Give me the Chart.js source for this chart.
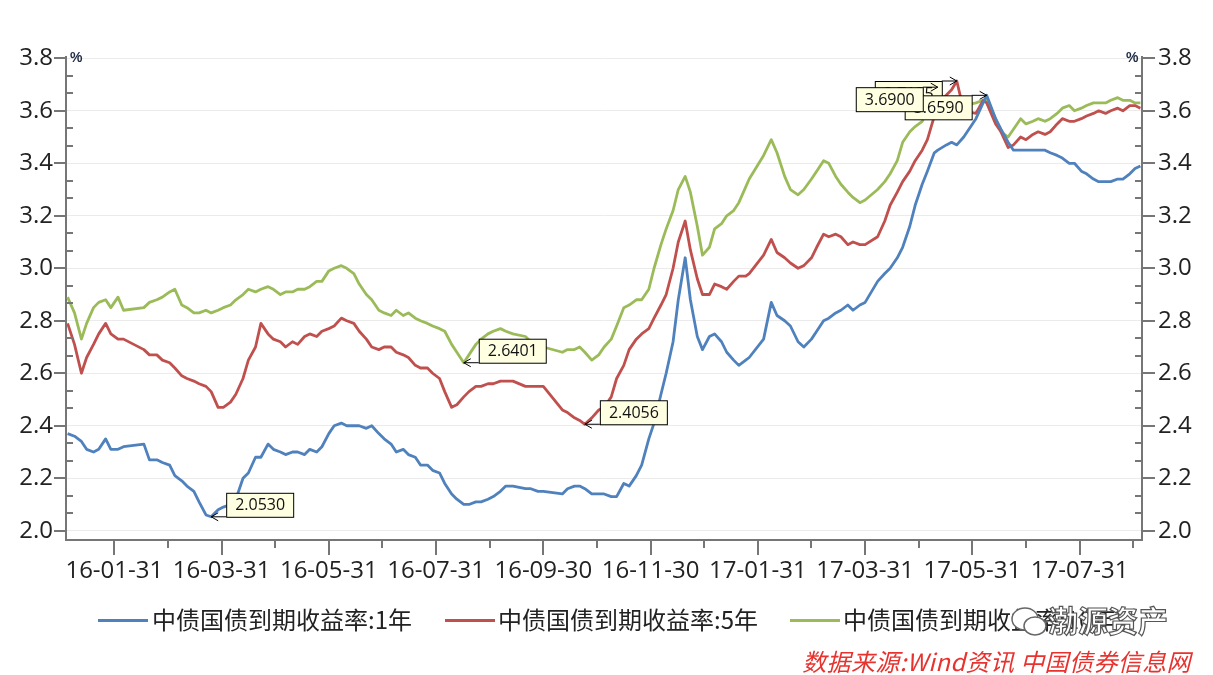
<!DOCTYPE html>
<html><head><meta charset="utf-8">
<script src="https://cdn.jsdelivr.net/npm/chart.js@4/dist/chart.umd.min.js"></script>
<style>
html,body{margin:0;padding:0;background:#fff;}
#wrap{position:relative;width:1213px;height:675px;overflow:hidden;}
#c{position:absolute;left:0;top:0;}
.pct{position:absolute;top:49px;font:bold 14px "Liberation Sans",Arial,sans-serif;color:#1f2a44;}
.leg{position:absolute;top:604px;font:24px "Noto Sans CJK SC",sans-serif;color:#222;white-space:nowrap;line-height:30px;}
.sw{position:absolute;top:619px;width:50px;height:3px;}
#src{position:absolute;right:22px;top:646px;font:italic 24px "Noto Sans CJK SC",sans-serif;letter-spacing:0.4px;color:#e8322e;white-space:nowrap;line-height:30px;}
#wm{position:absolute;left:1048px;top:601px;font:bold 30px "Noto Sans CJK SC",sans-serif;color:#fff;-webkit-text-stroke:1.2px #555;white-space:nowrap;line-height:36px;}
#wmicon{position:absolute;left:1010px;top:606px;}
</style>
</head><body>
<div id="wrap">
<canvas id="c" width="1213" height="675"></canvas>
<div class="pct" style="left:70px">%</div>
<div class="pct" style="left:1126px">%</div>
<div class="sw" style="left:98px;background:#4f81bd"></div>
<div class="leg" style="left:152px">中债国债到期收益率:1年</div>
<div class="sw" style="left:445px;background:#c0504d"></div>
<div class="leg" style="left:498px">中债国债到期收益率:5年</div>
<div class="sw" style="left:790px;background:#9bbb59"></div>
<div class="leg" style="left:843px">中债国债到期收益率:10年</div>
<svg id="wmicon" width="40" height="34" viewBox="0 0 40 34"><ellipse cx="15" cy="13" rx="13" ry="11" fill="#fff" stroke="#666" stroke-width="1.5"/><ellipse cx="25" cy="20" rx="11" ry="9" fill="#fff" stroke="#666" stroke-width="1.5"/></svg>
<div id="wm">渤源资产</div>
<div id="src">数据来源:Wind资讯 中国债券信息网</div>
</div>
<script>
// ---- data ----
const dates = [
'2016-01-04','2016-01-08','2016-01-12','2016-01-15','2016-01-19','2016-01-22','2016-01-26','2016-01-29','2016-02-02','2016-02-05',
'2016-02-16','2016-02-19','2016-02-23','2016-02-26','2016-03-01','2016-03-04','2016-03-08','2016-03-11','2016-03-15','2016-03-18',
'2016-03-22','2016-03-25','2016-03-29','2016-04-01','2016-04-05','2016-04-08','2016-04-12','2016-04-15','2016-04-19','2016-04-22',
'2016-04-26','2016-04-29','2016-05-03','2016-05-06','2016-05-10','2016-05-13','2016-05-17','2016-05-20','2016-05-24','2016-05-27',
'2016-05-31','2016-06-03','2016-06-07','2016-06-10','2016-06-14','2016-06-17','2016-06-21','2016-06-24','2016-06-28','2016-07-01',
'2016-07-05','2016-07-08','2016-07-12','2016-07-15','2016-07-19','2016-07-22','2016-07-26','2016-07-29','2016-08-02','2016-08-05',
'2016-08-09','2016-08-12','2016-08-16','2016-08-19','2016-08-23','2016-08-26','2016-08-30','2016-09-02','2016-09-06','2016-09-09',
'2016-09-13','2016-09-20','2016-09-23','2016-09-27','2016-09-30','2016-10-11','2016-10-14','2016-10-18','2016-10-21','2016-10-24',
'2016-10-28','2016-11-01','2016-11-04','2016-11-08','2016-11-11','2016-11-15','2016-11-18','2016-11-22','2016-11-25','2016-11-29',
'2016-12-02','2016-12-06','2016-12-09','2016-12-13','2016-12-16','2016-12-20','2016-12-23','2016-12-27','2016-12-30','2017-01-03',
'2017-01-06','2017-01-10','2017-01-13','2017-01-17','2017-01-20','2017-01-24','2017-01-26','2017-02-03','2017-02-07','2017-02-10',
'2017-02-14','2017-02-17','2017-02-21','2017-02-24','2017-02-28','2017-03-03','2017-03-07','2017-03-10','2017-03-14','2017-03-17',
'2017-03-21','2017-03-24','2017-03-28','2017-03-31','2017-04-07','2017-04-11','2017-04-14','2017-04-18','2017-04-21','2017-04-25',
'2017-04-28','2017-05-02','2017-05-05','2017-05-09','2017-05-11','2017-05-16','2017-05-19','2017-05-22','2017-05-26','2017-06-02',
'2017-06-06','2017-06-08','2017-06-13','2017-06-16','2017-06-20','2017-06-23','2017-06-27','2017-06-30','2017-07-04','2017-07-07',
'2017-07-11','2017-07-14','2017-07-18','2017-07-21','2017-07-25','2017-07-28','2017-08-01','2017-08-04','2017-08-08','2017-08-11',
'2017-08-15','2017-08-18','2017-08-22','2017-08-25','2017-08-29','2017-09-01','2017-09-04'];
const yield1Y = [
2.37,2.36,2.34,2.31,2.30,2.31,2.35,2.31,2.31,2.32,
2.33,2.27,2.27,2.26,2.25,2.21,2.19,2.17,2.15,2.11,
2.06,2.053,2.08,2.09,2.10,2.12,2.20,2.22,2.28,2.28,
2.33,2.31,2.30,2.29,2.30,2.30,2.29,2.31,2.30,2.32,
2.37,2.40,2.41,2.40,2.40,2.40,2.39,2.40,2.37,2.35,
2.33,2.30,2.31,2.29,2.28,2.25,2.25,2.23,2.22,2.18,
2.14,2.12,2.10,2.10,2.11,2.11,2.12,2.13,2.15,2.17,
2.17,2.16,2.16,2.15,2.15,2.14,2.16,2.17,2.17,2.16,
2.14,2.14,2.14,2.13,2.13,2.18,2.17,2.21,2.25,2.35,
2.41,2.52,2.60,2.72,2.88,3.04,2.88,2.74,2.69,2.74,
2.75,2.72,2.68,2.65,2.63,2.65,2.66,2.73,2.87,2.82,
2.80,2.78,2.72,2.70,2.73,2.76,2.80,2.81,2.83,2.84,
2.86,2.84,2.86,2.87,2.95,2.98,3.00,3.04,3.08,3.16,
3.24,3.32,3.37,3.44,3.45,3.47,3.48,3.47,3.50,3.57,
3.63,3.659,3.57,3.53,3.48,3.45,3.45,3.45,3.45,3.45,
3.45,3.44,3.43,3.42,3.40,3.40,3.37,3.36,3.34,3.33,
3.33,3.33,3.34,3.34,3.36,3.38,3.39];
const yield5Y = [
2.79,2.71,2.60,2.66,2.71,2.75,2.79,2.75,2.73,2.73,
2.69,2.67,2.67,2.65,2.64,2.62,2.59,2.58,2.57,2.56,
2.55,2.53,2.47,2.47,2.49,2.52,2.58,2.65,2.70,2.79,
2.75,2.73,2.72,2.70,2.72,2.71,2.74,2.75,2.74,2.76,
2.77,2.78,2.81,2.80,2.79,2.76,2.73,2.70,2.69,2.70,
2.70,2.68,2.67,2.66,2.63,2.62,2.62,2.60,2.58,2.53,
2.47,2.48,2.51,2.53,2.55,2.55,2.56,2.56,2.57,2.57,
2.57,2.55,2.55,2.55,2.55,2.46,2.45,2.43,2.42,2.4056,
2.43,2.46,2.47,2.51,2.58,2.63,2.69,2.73,2.75,2.77,
2.81,2.86,2.90,3.00,3.10,3.18,3.07,2.96,2.90,2.90,
2.94,2.93,2.92,2.95,2.97,2.97,2.98,3.05,3.11,3.06,
3.04,3.02,3.00,3.01,3.04,3.08,3.13,3.12,3.13,3.12,
3.09,3.10,3.09,3.09,3.12,3.18,3.24,3.29,3.33,3.37,
3.41,3.45,3.49,3.58,3.63,3.66,3.68,3.7135,3.60,3.59,
3.64,3.63,3.55,3.52,3.46,3.47,3.50,3.49,3.51,3.52,
3.51,3.52,3.55,3.57,3.56,3.56,3.57,3.58,3.59,3.60,
3.59,3.60,3.61,3.60,3.62,3.62,3.61];
const yield10Y = [
2.89,2.83,2.73,2.79,2.85,2.87,2.88,2.85,2.89,2.84,
2.85,2.87,2.88,2.89,2.91,2.92,2.86,2.85,2.83,2.83,
2.84,2.83,2.84,2.85,2.86,2.88,2.90,2.92,2.91,2.92,
2.93,2.92,2.90,2.91,2.91,2.92,2.92,2.93,2.95,2.95,
2.99,3.00,3.01,3.00,2.98,2.94,2.90,2.88,2.84,2.83,
2.82,2.84,2.82,2.83,2.81,2.80,2.79,2.78,2.77,2.76,
2.71,2.68,2.6401,2.67,2.71,2.73,2.75,2.76,2.77,2.76,
2.75,2.74,2.72,2.70,2.70,2.68,2.69,2.69,2.70,2.68,
2.65,2.67,2.70,2.73,2.78,2.85,2.86,2.88,2.88,2.92,
3.00,3.09,3.15,3.22,3.30,3.35,3.29,3.16,3.05,3.08,
3.15,3.17,3.20,3.22,3.25,3.31,3.34,3.43,3.49,3.44,
3.35,3.30,3.28,3.30,3.34,3.37,3.41,3.40,3.35,3.32,
3.29,3.27,3.25,3.26,3.30,3.33,3.36,3.41,3.48,3.52,
3.54,3.56,3.60,3.65,3.69,3.62,3.62,3.62,3.62,3.63,
3.64,3.64,3.57,3.52,3.50,3.53,3.57,3.55,3.56,3.57,
3.56,3.57,3.59,3.61,3.62,3.60,3.61,3.62,3.63,3.63,
3.63,3.64,3.65,3.64,3.64,3.63,3.63];
const seriesNames = ['中债国债到期收益率:1年','中债国债到期收益率:5年','中债国债到期收益率:10年'];
const seriesColors = ['#4f81bd','#c0504d','#9bbb59'];
const monthEnds = ['2016-01-31','2016-02-29','2016-03-31','2016-04-30','2016-05-31','2016-06-30','2016-07-31','2016-08-31','2016-09-30','2016-10-31',
'2016-11-30','2016-12-31','2017-01-31','2017-02-28','2017-03-31','2017-04-30','2017-05-31','2017-06-30','2017-07-31','2017-08-31'];
const yTicks = [2.0,2.2,2.4,2.6,2.8,3.0,3.2,3.4,3.6,3.8];
const annotations = [
  {series:1, date:'2017-05-22', text:'3.7135', side:'left'},
  {series:0, date:'2017-06-08', text:'3.6590', side:'left'},
  {series:2, date:'2017-05-11', text:'3.6900', side:'left'},
  {series:0, date:'2016-03-25', text:'2.0530', side:'right'},
  {series:2, date:'2016-08-16', text:'2.6401', side:'right'},
  {series:1, date:'2016-10-24', text:'2.4056', side:'right'}
];
// ---- helpers ----
function datePos(s){const [y,m,d]=s.split('-').map(Number);const dim=new Date(y,m,0).getDate();return (y-2016)*12+(m-1)+d/dim;}
function fmt(s){return s.slice(2);}
const allSeries=[yield1Y,yield5Y,yield10Y];
allSeries.forEach((a,i)=>{if(a.length!==dates.length)console.error('length mismatch',i,a.length,dates.length);});
const datasets = allSeries.map((arr,i)=>({
  label:seriesNames[i], yAxisID:'yL', xAxisID:'x',
  data:dates.map((d,j)=>({x:datePos(d),y:arr[j]})),
  borderColor:seriesColors[i], borderWidth:2.8, pointRadius:0, tension:0, fill:false, borderJoinStyle:'round'
}));
const FONT='"Open Sans", "Liberation Sans", sans-serif';
const tickPlugin={id:'tk',afterDraw(chart){
  const ctx=chart.ctx,x=chart.scales.x,yl=chart.scales.yL,a=chart.chartArea;
  ctx.save();ctx.strokeStyle='#767676';ctx.lineWidth=2;
  const ln=(x1,y1,x2,y2)=>{ctx.beginPath();ctx.moveTo(x1,y1);ctx.lineTo(x2,y2);ctx.stroke();};
  x.ticks.forEach((t,i)=>{const px=Math.round(x.getPixelForValue(t.value));ln(px,a.bottom,px,a.bottom+(i%2===0?15:8));});
  for(let i=0;i<yTicks.length-1;i++){
    for(let k=0;k<3;k++){
      const v=yTicks[i]+(yTicks[i+1]-yTicks[i])*k/3;const py=Math.round(yl.getPixelForValue(v));
      if(k===0){ln(a.left-12,py,a.left,py);ln(a.right,py,a.right+13,py);}
      else{ln(a.left,py,a.left+7,py);ln(a.right-7,py,a.right,py);}
    }
  }
  const pt=Math.round(yl.getPixelForValue(yTicks[yTicks.length-1]));ln(a.left-12,pt,a.left,pt);ln(a.right,pt,a.right+13,pt);
  ctx.restore();
}};
const annPlugin={id:'ann',afterDatasetsDraw(chart){
  const ctx=chart.ctx,x=chart.scales.x,y=chart.scales.yL;
  ctx.save();ctx.font='16px '+FONT;ctx.textBaseline='middle';
  annotations.forEach(an=>{
    const j=dates.indexOf(an.date);const v=allSeries[an.series][j];
    const px=x.getPixelForValue(datePos(an.date)),py=y.getPixelForValue(v);
    const w=67,h=24,gap=15;let bx,by,ax,ay;
    if(an.side==='right'){bx=px+gap;by=py-h;ax=bx;ay=py;}else{bx=px-gap-w;by=py;ax=bx+w;ay=py;}
    ctx.strokeStyle='#000';ctx.lineWidth=1;
    ctx.beginPath();ctx.moveTo(ax,ay);ctx.lineTo(px,py);ctx.stroke();
    const dir=an.side==='right'?1:-1;
    ctx.beginPath();ctx.moveTo(px+dir*7,py-4);ctx.lineTo(px,py);ctx.lineTo(px+dir*7,py+4);ctx.stroke();
    ctx.fillStyle='#ffffe1';ctx.fillRect(bx+0.5,by+0.5,w,h);ctx.strokeRect(bx+0.5,by+0.5,w,h);
    ctx.fillStyle='#111';ctx.textAlign='center';ctx.fillText(an.text,bx+w/2+0.5,by+h/2+1);
  });
  ctx.restore();
}};
const tickFont={family:FONT,size:24};
new Chart(document.getElementById('c'),{
  type:'line',
  data:{datasets},
  options:{
    responsive:false,animation:false,
    layout:{padding:{top:57,bottom:90,left:0,right:0}},
    plugins:{legend:{display:false},tooltip:{enabled:false}},
    scales:{
      x:{type:'linear',min:0.0994,max:20.163,
        afterBuildTicks:s=>{s.ticks=monthEnds.map(d=>({value:datePos(d)}));},
        afterFit:s=>{s.height=45;},
        grid:{display:false,drawTicks:false},
        border:{display:true,color:'#767676',width:2},
        ticks:{autoSkip:false,maxRotation:0,padding:17,color:'#222',font:tickFont,
          callback:(v,i)=>i%2===0?fmt(monthEnds[i]):''}},
      yL:{type:'linear',position:'left',min:1.9646,max:3.805,
        afterBuildTicks:s=>{s.ticks=yTicks.map(v=>({value:v}));},
        afterFit:s=>{s.width=66;},
        grid:{display:true,color:'#ebebeb',lineWidth:1,drawTicks:false},
        border:{display:true,color:'#767676',width:2},
        ticks:{padding:13,color:'#222',font:tickFont,callback:v=>v.toFixed(1)}},
      yR:{type:'linear',position:'right',min:1.9646,max:3.805,
        afterBuildTicks:s=>{s.ticks=yTicks.map(v=>({value:v}));},
        afterFit:s=>{s.width=71;},
        grid:{display:false,drawTicks:false},
        border:{display:true,color:'#767676',width:2},
        ticks:{padding:16,color:'#222',font:tickFont,callback:v=>v.toFixed(1)}}
    }
  },
  plugins:[tickPlugin,annPlugin]
});
</script>
</body></html>
